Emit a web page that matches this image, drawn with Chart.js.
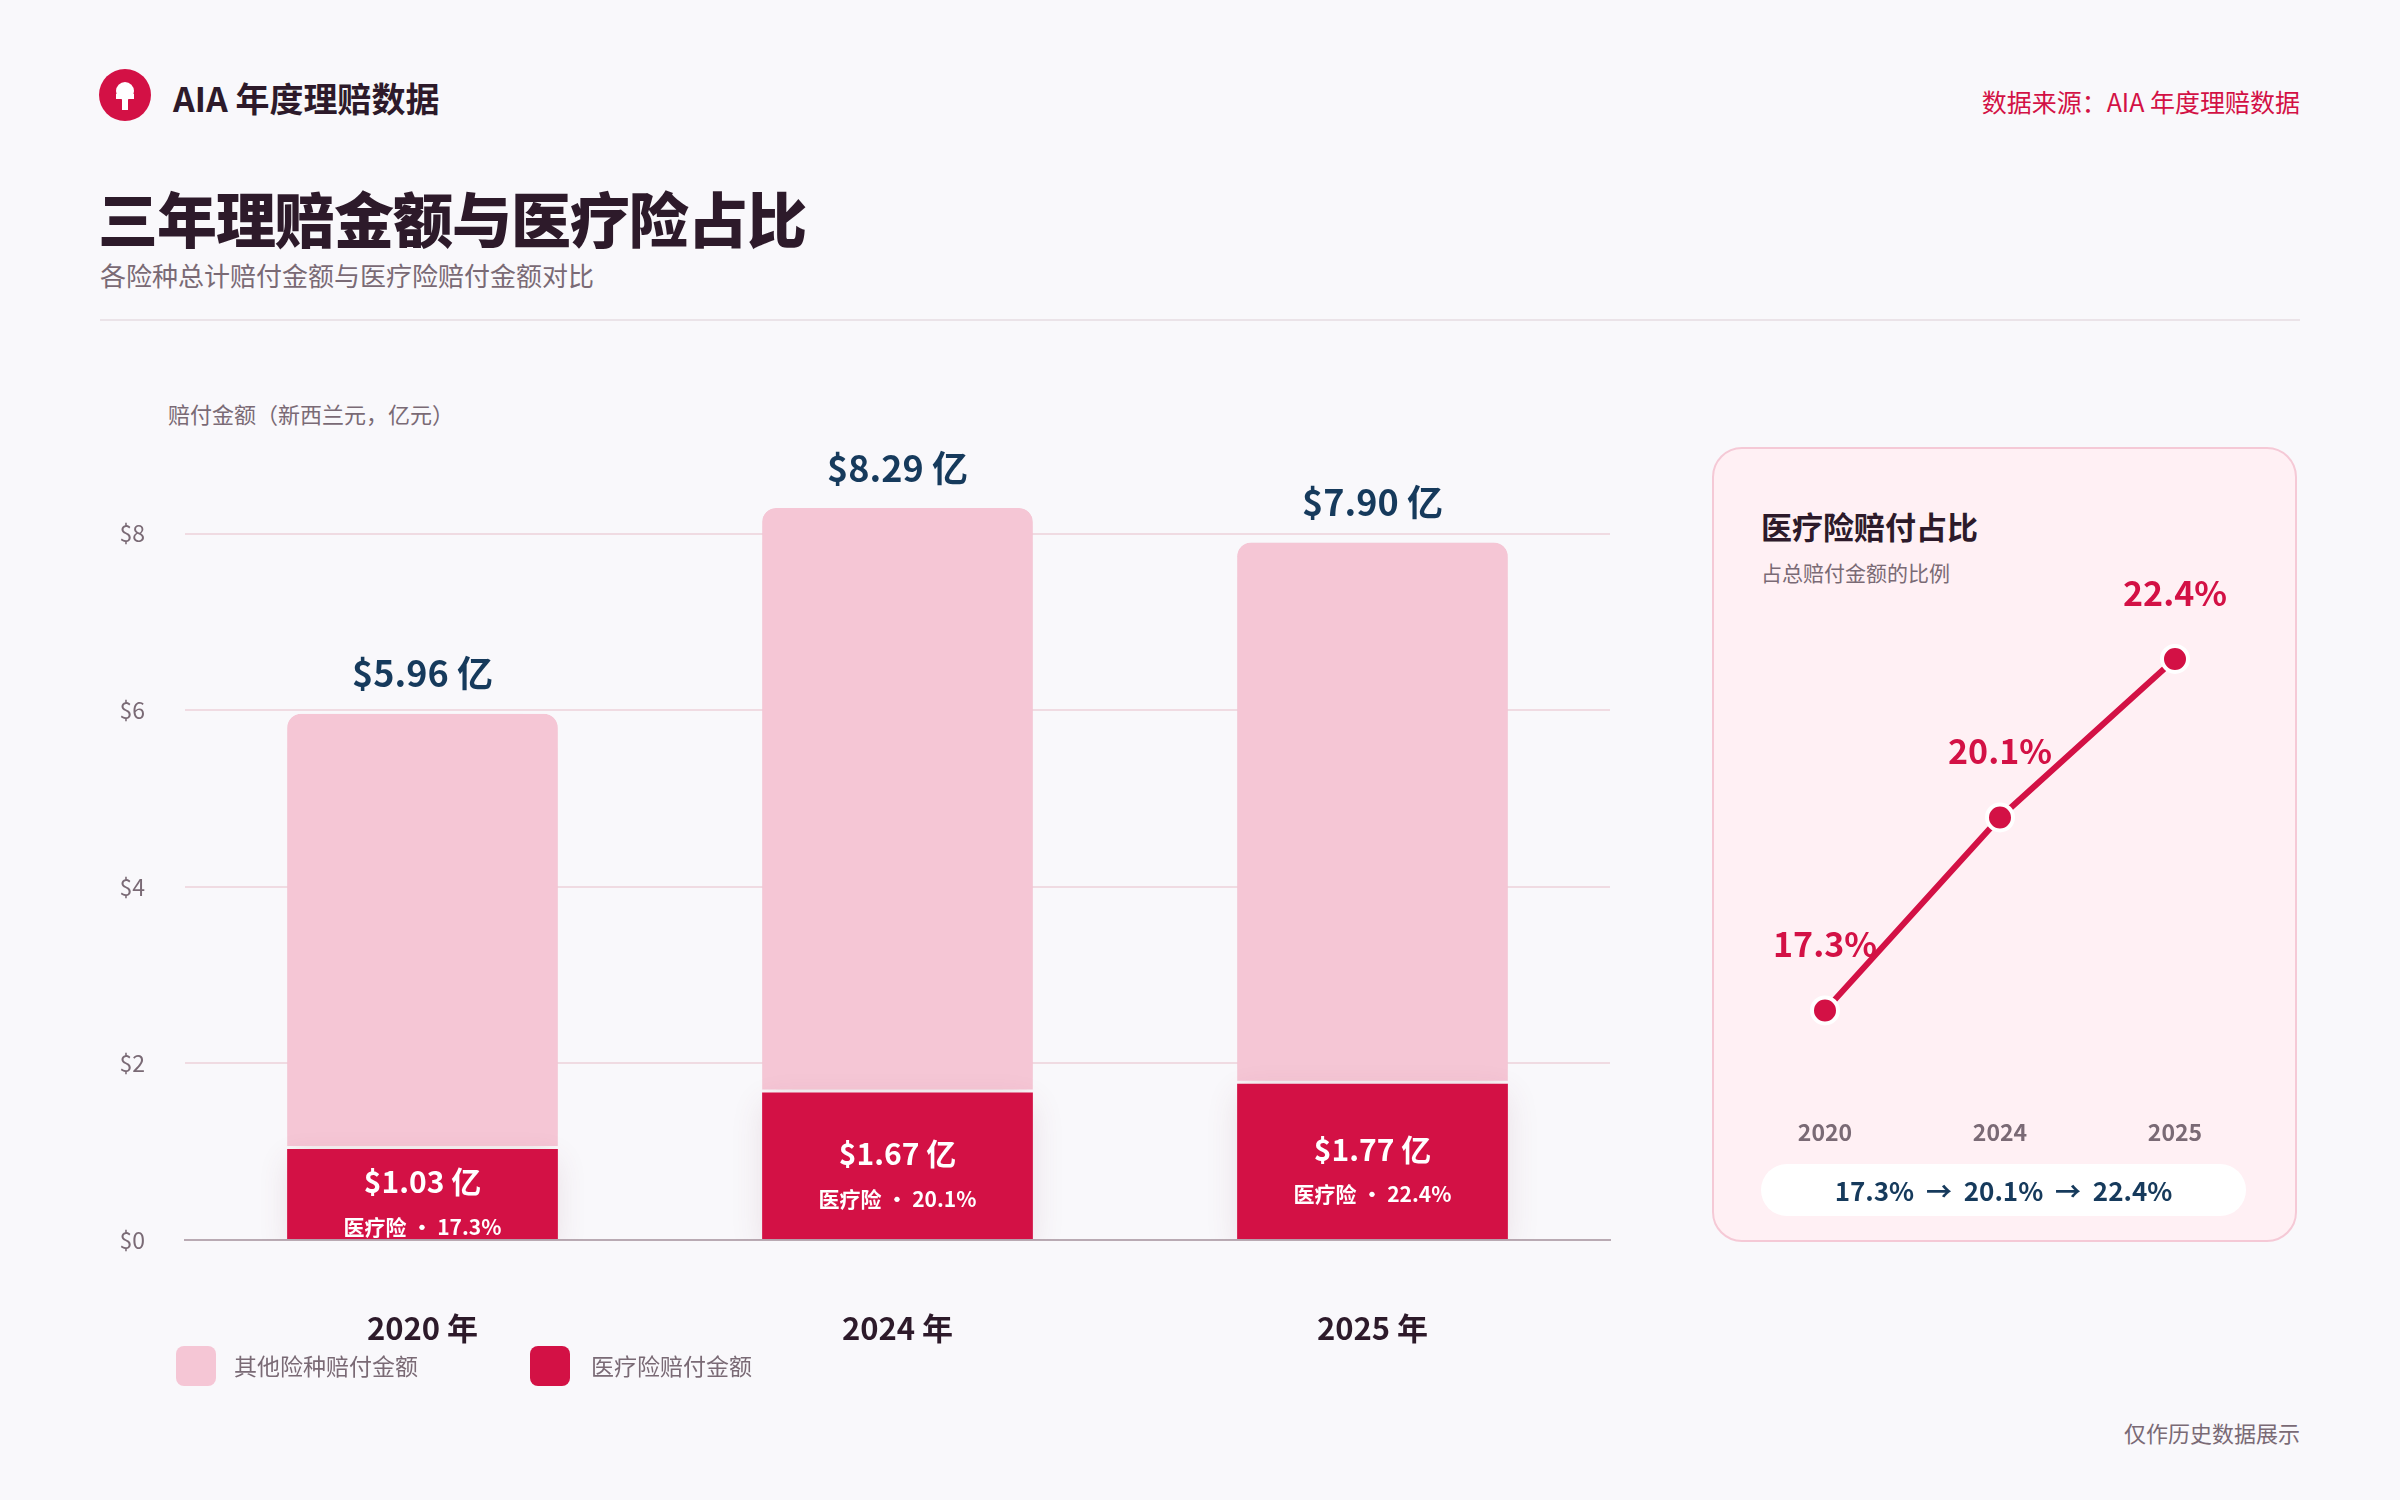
<!DOCTYPE html>
<html>
<head>
<meta charset="utf-8">
<script src="https://cdn.jsdelivr.net/npm/chart.js@4.4.1/dist/chart.umd.min.js"></script>
<style>
  html, body { margin: 0; padding: 0; }
  body { width: 2400px; height: 1500px; background: #f9f8fb; position: relative; overflow: hidden;
         font-family: "Noto Sans CJK SC", "Noto Sans", sans-serif; }
  .abs { position: absolute; }
  #logo { left: 99px; top: 69px; width: 52px; height: 52px; border-radius: 50%; background: #d31145; }
  #brand { left: 173px; top: 73px; font-size: 34px; font-weight: 700; color: #2d1a2a; }
  #source { right: 100px; top: 83px; font-size: 25px; color: #d31145; }
  #title { left: 98px; top: 173px; font-size: 60px; font-weight: 900; color: #2d1a2a; letter-spacing: -1px; }
  #subtitle { left: 100px; top: 256px; font-size: 26px; color: #7a6a75; }
  #divider { left: 100px; top: 319px; width: 2200px; height: 2px; background: #ebe3e8; }
  #ytitle { left: 168px; top: 397px; font-size: 22px; color: #7a6a75; }
  #barWrap { left: 0; top: 0; width: 1700px; height: 1500px; }
  .leg { top: 1346px; width: 40px; height: 40px; border-radius: 8px; }
  .legt { top: 1348px; font-size: 23px; color: #7a6a75; }
  #panel { left: 1712px; top: 447px; width: 581px; height: 791px; background: #fff0f4;
           border: 2px solid #f5c9d6; border-radius: 30px; }
  #ptitle { left: 1761px; top: 503px; font-size: 31px; font-weight: 700; color: #2d1a2a; }
  #psub { left: 1761px; top: 557px; font-size: 21px; color: #7a6a75; }
  #lineWrap { left: 1712px; top: 447px; width: 583px; height: 793px; }
  #pill { left: 1761px; top: 1164px; width: 485px; height: 52px; background: #fff; border-radius: 26px;
          text-align: center; line-height: 52px; font-size: 26px; font-weight: 700; color: #163a5c; }
  #footer { right: 100px; top: 1416px; font-size: 22px; color: #7a6a75; }
</style>
</head>
<body>
<div class="abs" id="logo">
  <svg width="52" height="52" viewBox="0 0 52 52">
    <circle cx="26" cy="22" r="9" fill="#fff"/>
    <rect x="17" y="25" width="18" height="5" fill="#fff"/>
    <rect x="23" y="28" width="6" height="13" fill="#fff"/>
  </svg>
</div>
<div class="abs" id="brand">AIA 年度理赔数据</div>
<div class="abs" id="source">数据来源：AIA 年度理赔数据</div>
<div class="abs" id="title">三年理赔金额与医疗险占比</div>
<div class="abs" id="subtitle">各险种总计赔付金额与医疗险赔付金额对比</div>
<div class="abs" id="divider"></div>
<div class="abs" id="ytitle">赔付金额（新西兰元，亿元）</div>
<div class="abs" id="barWrap"><canvas id="barChart"></canvas></div>
<div class="abs leg" style="left:176px;background:#f5c6d5"></div>
<div class="abs legt" style="left:234px">其他险种赔付金额</div>
<div class="abs leg" style="left:530px;background:#d31145"></div>
<div class="abs legt" style="left:591px">医疗险赔付金额</div>

<div class="abs" id="panel"></div>
<div class="abs" id="ptitle">医疗险赔付占比</div>
<div class="abs" id="psub">占总赔付金额的比例</div>
<div class="abs" id="lineWrap"><canvas id="lineChart"></canvas></div>
<div class="abs" id="pill">17.3% &nbsp;→&nbsp; 20.1% &nbsp;→&nbsp; 22.4%</div>
<div class="abs" id="footer">仅作历史数据展示</div>

<script>
// 数据
const years = ['2020', '2024', '2025'];
const yearLabels = ['2020 年', '2024 年', '2025 年'];
const medicalClaims = [1.03, 1.67, 1.77];
const otherClaims = [4.93, 6.62, 6.13];
const totalClaims = [5.96, 8.29, 7.90];
const medicalShare = [17.3, 20.1, 22.4];

const RED = '#d31145';
const PINK = '#f5c6d5';
const NAVY = '#163a5c';
const GRAY = '#7a6a75';
const FONT = '"Noto Sans CJK SC", "Noto Sans", sans-serif';

// 柱状图标签
const barLabels = {
    id: 'barLabels',
    afterDatasetsDraw(chart) {
        const c = chart.ctx;
        const med = chart.getDatasetMeta(0).data;
        const oth = chart.getDatasetMeta(1).data;
        c.save();
        c.textAlign = 'center';
        c.textBaseline = 'middle';
        med.forEach((bar, i) => {
            const mid = (bar.y + bar.base) / 2;
            c.fillStyle = '#fff';
            c.font = `700 30px ${FONT}`;
            c.fillText(`$${medicalClaims[i].toFixed(2)} 亿`, bar.x, mid - 12);
            c.font = `700 21px ${FONT}`;
            c.fillText(`医疗险 • ${medicalShare[i].toFixed(1)}%`, bar.x, mid + 33);
        });
        oth.forEach((bar, i) => {
            c.fillStyle = NAVY;
            c.font = `700 36px ${FONT}`;
            c.fillText(`$${totalClaims[i].toFixed(2)} 亿`, bar.x, bar.y - 40);
        });
        c.restore();
    }
};

// 阴影
const barShadow = {
    id: 'barShadow',
    beforeDatasetsDraw(chart) {
        const c = chart.ctx;
        c.save();
        c.shadowColor = 'rgba(120, 60, 80, 0.12)';
        c.shadowBlur = 30;
        c.shadowOffsetY = 10;
    },
    afterDatasetsDraw(chart) { chart.ctx.restore(); }
};

new Chart(document.getElementById('barChart'), {
    type: 'bar',
    data: {
        labels: yearLabels,
        datasets: [
            { label: '医疗险赔付金额', data: medicalClaims, backgroundColor: RED, stack: 's',
              borderWidth: 0, borderRadius: 0 },
            { label: '其他险种赔付金额', data: otherClaims, backgroundColor: PINK, stack: 's',
              borderColor: '#ffffff', borderWidth: { bottom: 3 }, borderSkipped: false,
              borderRadius: { topLeft: 14, topRight: 14, bottomLeft: 0, bottomRight: 0 } }
        ]
    },
    options: {
        responsive: true,
        maintainAspectRatio: false,
        animation: false,
        layout: { padding: { left: 0, right: 90, top: 357, bottom: 130 } },
        plugins: { legend: { display: false }, tooltip: { enabled: false } },
        datasets: { bar: { barPercentage: 0.57, categoryPercentage: 1 } },
        scales: {
            x: {
                stacked: true,
                grid: { display: false },
                border: { display: true, color: '#b9aab3', width: 2 },
                ticks: { color: '#2d1a2a', font: { family: FONT, size: 31, weight: '700' }, padding: 62 },
                afterFit(s) { s.height = 130; }
            },
            y: {
                stacked: true,
                min: 0, max: 10,
                border: { display: false },
                grid: {
                    color: ctx => (ctx.tick.value === 0 || ctx.tick.value === 10) ? 'rgba(0,0,0,0)' : '#f0dbe2',
                    lineWidth: 2, drawTicks: false
                },
                ticks: {
                    stepSize: 2, padding: 40, color: GRAY,
                    font: { family: FONT, size: 23 },
                    callback: v => v === 10 ? '' : '$' + v
                },
                afterFit(s) { s.width = 185; }
            }
        }
    },
    plugins: [barShadow, barLabels]
});

// 折线图标签
const lineLabels = {
    id: 'lineLabels',
    afterDatasetsDraw(chart) {
        const c = chart.ctx;
        c.save();
        c.textAlign = 'center';
        c.textBaseline = 'middle';
        c.fillStyle = RED;
        c.font = `700 34px ${FONT}`;
        chart.getDatasetMeta(0).data.forEach((pt, i) => {
            c.fillText(`${medicalShare[i].toFixed(1)}%`, pt.x, pt.y - 66);
        });
        c.restore();
    }
};

new Chart(document.getElementById('lineChart'), {
    type: 'line',
    data: {
        labels: years,
        datasets: [{
            data: medicalShare,
            borderColor: RED, borderWidth: 6,
            pointRadius: 13, pointBackgroundColor: RED,
            pointBorderColor: '#ffffff', pointBorderWidth: 4,
            tension: 0, clip: false
        }]
    },
    options: {
        responsive: true,
        maintainAspectRatio: false,
        animation: false,
        layout: { padding: { left: 113, right: 120, top: 143, bottom: 80 } },
        plugins: { legend: { display: false }, tooltip: { enabled: false } },
        scales: {
            x: {
                offset: false,
                grid: { display: false },
                border: { display: false },
                ticks: { color: GRAY, font: { family: FONT, size: 23, weight: '700' }, padding: 10 },
                afterFit(s) { s.height = 60; }
            },
            y: { display: false, min: 16, max: 23.4 }
        }
    },
    plugins: [lineLabels]
});
</script>
</body>
</html>
